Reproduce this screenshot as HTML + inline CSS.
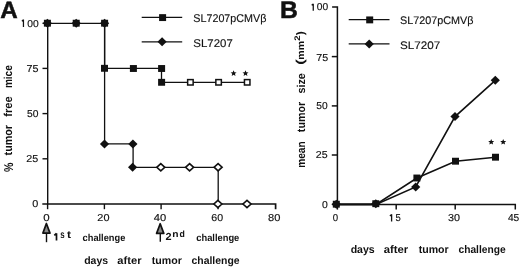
<!DOCTYPE html>
<html><head><meta charset="utf-8">
<style>
html,body{margin:0;padding:0;background:#fff;}
body{width:520px;height:267px;overflow:hidden;}
svg{display:block;will-change:transform;}
text{font-family:"Liberation Sans",sans-serif;fill:#111;text-rendering:geometricPrecision;}
</style></head><body>
<svg width="520" height="267" viewBox="0 0 520 267">
<defs>
  <rect id="fs" x="-3.5" y="-3.45" width="7" height="6.9" fill="#111"/>
  <rect id="os" x="-2.75" y="-2.7" width="5.5" height="5.4" fill="#fff" stroke="#111" stroke-width="1.5"/>
  <path id="fd" d="M0,-4.5 L4.6,0 L0,4.5 L-4.6,0 Z" fill="#111"/>
  <path id="od" d="M0,-3.6 L4.0,0 L0,3.6 L-4.0,0 Z" fill="#fff" stroke="#111" stroke-width="1.6" stroke-linejoin="miter"/>
  <path id="st" d="M0,-3.1 L0.85,-1.05 L3.0,-0.95 L1.35,0.45 L1.9,2.6 L0,1.4 L-1.9,2.6 L-1.35,0.45 L-3.0,-0.95 L-0.85,-1.05 Z" fill="#111"/>
</defs>
<!-- ===== Panel A geometry ===== -->
<g stroke="#111" stroke-width="1.4" fill="none">
  <line x1="47.7" y1="23" x2="47.7" y2="204"/>
  <polyline points="42.3,204 275.6,204 275.6,209.2" stroke-width="1.7"/>
  <line x1="42.5" y1="23.3" x2="47.6" y2="23.3"/>
  <line x1="42.5" y1="68.4" x2="47.6" y2="68.4"/>
  <line x1="42.5" y1="113.6" x2="47.6" y2="113.6"/>
  <line x1="42.5" y1="158.8" x2="47.6" y2="158.8"/>
  <line x1="47.6" y1="204" x2="47.6" y2="209.2"/>
  <line x1="104.4" y1="204" x2="104.4" y2="209.2"/>
  <line x1="161.1" y1="204" x2="161.1" y2="209.2"/>
  <line x1="218.1" y1="204" x2="218.1" y2="209.2"/>
</g>
<g stroke="#111" stroke-width="1.3" fill="none">
  <polyline points="47.6,23.3 104.6,23.3 104.6,68.4 161.5,68.4 161.5,82.3 247,82.3"/>
  <polyline points="104.6,23.3 104.6,143.9 133.1,143.9 133.1,167.3 218.2,167.3 218.2,204"/>
  <line x1="141.7" y1="17.3" x2="182.2" y2="17.3"/>
  <line x1="141.7" y1="41.8" x2="182.2" y2="41.8"/>
</g>
<use href="#fd" x="47.4" y="23.2"/><use href="#fs" x="47.4" y="23.2"/>
<use href="#fd" x="76.2" y="23.2"/><use href="#fs" x="76.2" y="23.2"/>
<use href="#fd" x="104.6" y="23.2"/><use href="#fs" x="104.6" y="23.2"/>
<use href="#fs" x="104.5" y="68.3"/>
<use href="#fs" x="133.4" y="68.5"/>
<use href="#fs" x="161.6" y="68.5"/>
<use href="#fs" x="161.6" y="82.3"/>
<use href="#os" x="190.4" y="82.3"/>
<use href="#os" x="218.6" y="82.3"/>
<use href="#os" x="247.2" y="82.3"/>
<use href="#fd" x="104.5" y="143.9"/>
<use href="#fd" x="132.9" y="143.9"/>
<use href="#fd" x="132.6" y="167.2"/>
<use href="#od" x="160.8" y="167.3"/>
<use href="#od" x="189.6" y="167.3"/>
<use href="#od" x="218.1" y="167.2"/>
<use href="#od" x="217.9" y="204"/>
<use href="#od" x="247" y="204"/>
<use href="#st" x="233.6" y="73.4"/>
<use href="#st" x="245.5" y="73.4"/>
<use href="#fs" x="162.6" y="17.6"/>
<use href="#fd" x="162.1" y="41.7"/>
<!-- arrows -->
<g stroke="#111" fill="#8a8a8a" stroke-linejoin="round">
  <path d="M46.4,223.5 L50.0,233.1 L42.9,233.1 Z" stroke-width="1.7"/>
  <line x1="46.5" y1="233" x2="46.5" y2="242.2" stroke-width="1.4"/>
  <path d="M160.2,223.7 L163.8,233.4 L156.6,233.4 Z" stroke-width="1.7"/>
  <line x1="160.3" y1="233.4" x2="160.3" y2="241.8" stroke-width="1.4"/>
</g>
<!-- ===== Panel B geometry ===== -->
<g stroke="#111" stroke-width="1.5" fill="none">
  <polyline points="332.1,7.1 337.4,7.1 337.4,204.4 515.3,204.4 515.3,209.6"/>
  <line x1="331.8" y1="56.6" x2="337.4" y2="56.6"/>
  <line x1="331.8" y1="105.9" x2="337.4" y2="105.9"/>
  <line x1="331.8" y1="155" x2="337.4" y2="155"/>
  <line x1="331.8" y1="204.4" x2="337.4" y2="204.4"/>
  <line x1="337.4" y1="204.4" x2="337.4" y2="209.6"/>
  <line x1="396.2" y1="204.4" x2="396.2" y2="209.6"/>
  <line x1="455.2" y1="204.4" x2="455.2" y2="209.6"/>
</g>
<g stroke="#111" stroke-width="1.6" fill="none">
  <polyline points="336.6,204.4 376,204.4 416.9,178 455.5,161.2 495.5,157.2"/>
  <polyline points="336.6,204.4 376,204.4 415.7,187 455,116.6 495.3,80.3"/>
  <line x1="348.7" y1="19.6" x2="389.5" y2="19.6" stroke-width="1.3"/>
  <line x1="348.7" y1="43.9" x2="389.5" y2="43.9" stroke-width="1.3"/>
</g>
<use href="#fd" x="336.3" y="204.2"/><use href="#fs" x="336.3" y="204.2"/>
<use href="#fd" x="375.8" y="203.7"/><use href="#fs" x="375.8" y="203.7"/>
<use href="#fs" x="416.9" y="178"/>
<use href="#fd" x="415.7" y="187"/>
<use href="#fs" x="455.5" y="161.2"/>
<use href="#fd" x="455" y="116.6"/>
<use href="#fs" x="495.5" y="157.2"/>
<use href="#fd" x="495.3" y="80.3"/>
<use href="#st" x="491.2" y="142"/>
<use href="#st" x="503.2" y="142"/>
<use href="#fs" x="369.7" y="19.9"/>
<use href="#fd" x="369.2" y="43.9"/>
<!-- custom "1" glyphs -->
<g stroke="#111" fill="none" stroke-linecap="butt">
  <path d="M23.45,19.6 L23.45,26.9 M21.9,21.3 L23.45,19.8" stroke-width="1.25"/>
  <path d="M313.25,3.7 L313.25,10.7 M311.7,5.3 L313.25,3.9" stroke-width="1.25"/>
  <path d="M391.6,214.3 L391.6,221.5 M389.9,216.0 L391.6,214.5" stroke-width="1.3"/>
  <path d="M56.5,233.2 L56.5,240.5 M54.3,235.4 L56.5,233.4" stroke-width="1.7"/>
</g>

<g id="texts">
<text id="tA" x="0.292" y="18.000" font-size="23.616" font-weight="bold" textLength="17.484" lengthAdjust="spacingAndGlyphs" stroke="#111" stroke-width="0.5">A</text>
<text id="tB" x="280.063" y="18.000" font-size="24.121" font-weight="bold" textLength="17.884" lengthAdjust="spacingAndGlyphs" stroke="#111" stroke-width="0.5">B</text>
<text id="ya100" x="27.160" y="27.000" font-size="10.026" font-weight="normal" textLength="11.461" lengthAdjust="spacingAndGlyphs" stroke="#111" stroke-width="0.15">00</text>
<text id="ya75" x="26.559" y="72.000" font-size="10.026" font-weight="normal" textLength="11.968" lengthAdjust="spacingAndGlyphs" stroke="#111" stroke-width="0.15">75</text>
<text id="ya50" x="26.959" y="117.000" font-size="10.026" font-weight="normal" textLength="11.457" lengthAdjust="spacingAndGlyphs" stroke="#111" stroke-width="0.15">50</text>
<text id="ya25" x="26.293" y="162.000" font-size="10.026" font-weight="normal" textLength="11.962" lengthAdjust="spacingAndGlyphs" stroke="#111" stroke-width="0.15">25</text>
<text id="ya0" x="32.379" y="207.000" font-size="10.026" font-weight="normal" textLength="6.048" lengthAdjust="spacingAndGlyphs" stroke="#111" stroke-width="0.15">0</text>
<text id="xa0" x="43.351" y="221.000" font-size="10.026" font-weight="normal" textLength="6.414" lengthAdjust="spacingAndGlyphs" stroke="#111" stroke-width="0.15">0</text>
<text id="xa20" x="97.381" y="221.000" font-size="10.026" font-weight="normal" textLength="12.119" lengthAdjust="spacingAndGlyphs" stroke="#111" stroke-width="0.15">20</text>
<text id="xa40" x="153.711" y="221.000" font-size="10.026" font-weight="normal" textLength="12.442" lengthAdjust="spacingAndGlyphs" stroke="#111" stroke-width="0.15">40</text>
<text id="xa60" x="211.350" y="221.000" font-size="10.026" font-weight="normal" textLength="11.825" lengthAdjust="spacingAndGlyphs" stroke="#111" stroke-width="0.15">60</text>
<text id="xa80" x="268.101" y="221.000" font-size="10.026" font-weight="normal" textLength="12.358" lengthAdjust="spacingAndGlyphs" stroke="#111" stroke-width="0.15">80</text>
<text id="la1" x="193.301" y="22.000" font-size="11.227" font-weight="normal" textLength="73.107" lengthAdjust="spacingAndGlyphs" stroke="#111" stroke-width="0.15">SL7207pCMVβ</text>
<text id="la2" x="193.372" y="47.000" font-size="11.227" font-weight="normal" textLength="39.432" lengthAdjust="spacingAndGlyphs" stroke="#111" stroke-width="0.15">SL7207</text>
<text id="lb1" x="399.987" y="24.000" font-size="10.982" font-weight="normal" textLength="73.468" lengthAdjust="spacingAndGlyphs" stroke="#111" stroke-width="0.15">SL7207pCMVβ</text>
<text id="lb2" x="399.960" y="49.000" font-size="10.982" font-weight="normal" textLength="40.211" lengthAdjust="spacingAndGlyphs" stroke="#111" stroke-width="0.15">SL7207</text>
<text id="yta1" transform="translate(13.000,172.027) rotate(-90)" font-size="12.754" font-weight="bold" textLength="9.419" lengthAdjust="spacingAndGlyphs">%</text>
<text id="yta2" transform="translate(12.000,155.408) rotate(-90)" font-size="11.510" font-weight="bold" textLength="30.421" lengthAdjust="spacingAndGlyphs">tumor</text>
<text id="yta3" transform="translate(12.000,116.668) rotate(-90)" font-size="11.510" font-weight="bold" textLength="20.376" lengthAdjust="spacingAndGlyphs">free</text>
<text id="yta4" transform="translate(12.000,88.105) rotate(-90)" font-size="11.510" font-weight="bold" textLength="22.908" lengthAdjust="spacingAndGlyphs">mice</text>
<text id="c1b" x="60.148" y="238.000" font-size="10.489" font-weight="bold" textLength="4.373" lengthAdjust="spacingAndGlyphs">s</text>
<text id="c1d" x="67.053" y="238.000" font-size="10.564" font-weight="bold" textLength="3.972" lengthAdjust="spacingAndGlyphs">t</text>
<text id="c1c" x="82.579" y="241.000" font-size="9.985" font-weight="bold" textLength="42.750" lengthAdjust="spacingAndGlyphs">challenge</text>
<text id="c2a" x="165.634" y="240.000" font-size="10.238" font-weight="bold" textLength="6.055" lengthAdjust="spacingAndGlyphs">2</text>
<text id="c2b" x="172.168" y="237.000" font-size="9.197" font-weight="bold" textLength="6.284" lengthAdjust="spacingAndGlyphs">n</text>
<text id="c2d" x="179.506" y="237.000" font-size="9.111" font-weight="bold" textLength="5.367" lengthAdjust="spacingAndGlyphs">d</text>
<text id="c2c" x="196.258" y="241.000" font-size="9.985" font-weight="bold" textLength="43.059" lengthAdjust="spacingAndGlyphs">challenge</text>
<text id="xta1" x="84.151" y="264.000" font-size="10.677" font-weight="bold" textLength="23.925" lengthAdjust="spacingAndGlyphs">days</text>
<text id="xta2" x="117.372" y="264.000" font-size="10.677" font-weight="bold" textLength="24.167" lengthAdjust="spacingAndGlyphs">after</text>
<text id="xta3" x="151.856" y="264.000" font-size="10.677" font-weight="bold" textLength="30.054" lengthAdjust="spacingAndGlyphs">tumor</text>
<text id="xta4" x="191.518" y="264.000" font-size="10.677" font-weight="bold" textLength="48.041" lengthAdjust="spacingAndGlyphs">challenge</text>
<text id="yb100" x="316.783" y="10.000" font-size="10.026" font-weight="normal" textLength="11.407" lengthAdjust="spacingAndGlyphs" stroke="#111" stroke-width="0.15">00</text>
<text id="yb75" x="316.362" y="61.000" font-size="10.026" font-weight="normal" textLength="11.922" lengthAdjust="spacingAndGlyphs" stroke="#111" stroke-width="0.15">75</text>
<text id="yb50" x="316.374" y="109.000" font-size="10.026" font-weight="normal" textLength="11.379" lengthAdjust="spacingAndGlyphs" stroke="#111" stroke-width="0.15">50</text>
<text id="yb25" x="315.797" y="158.000" font-size="10.026" font-weight="normal" textLength="11.790" lengthAdjust="spacingAndGlyphs" stroke="#111" stroke-width="0.15">25</text>
<text id="yb0" x="321.891" y="208.000" font-size="10.026" font-weight="normal" textLength="5.806" lengthAdjust="spacingAndGlyphs" stroke="#111" stroke-width="0.15">0</text>
<text id="xb0" x="332.864" y="221.000" font-size="10.026" font-weight="normal" textLength="5.373" lengthAdjust="spacingAndGlyphs" stroke="#111" stroke-width="0.15">0</text>
<text id="xb15" x="395.536" y="221.000" font-size="10.026" font-weight="normal" textLength="5.282" lengthAdjust="spacingAndGlyphs" stroke="#111" stroke-width="0.15">5</text>
<text id="xb30" x="448.103" y="221.000" font-size="10.026" font-weight="normal" textLength="12.024" lengthAdjust="spacingAndGlyphs" stroke="#111" stroke-width="0.15">30</text>
<text id="xb45" x="507.905" y="221.000" font-size="10.026" font-weight="normal" textLength="11.350" lengthAdjust="spacingAndGlyphs" stroke="#111" stroke-width="0.15">45</text>
<text id="ytb1" transform="translate(305.000,167.872) rotate(-90)" font-size="11.386" font-weight="bold" textLength="26.557" lengthAdjust="spacingAndGlyphs">mean</text>
<text id="ytb2" transform="translate(305.000,132.148) rotate(-90)" font-size="11.386" font-weight="bold" textLength="30.258" lengthAdjust="spacingAndGlyphs">tumor</text>
<text id="ytb3" transform="translate(305.000,93.607) rotate(-90)" font-size="11.386" font-weight="bold" textLength="20.446" lengthAdjust="spacingAndGlyphs">size</text>
<text id="ytb4" transform="translate(304.000,64.732) rotate(-90)" font-size="11.586" font-weight="bold" textLength="5.409" lengthAdjust="spacingAndGlyphs">(</text>
<text id="ytb5" transform="translate(304.000,59.745) rotate(-90)" font-size="9.629" font-weight="bold" textLength="18.773" lengthAdjust="spacingAndGlyphs">mm</text>
<text id="ytb6" transform="translate(300.000,40.702) rotate(-90)" font-size="8.091" font-weight="bold" textLength="5.316" lengthAdjust="spacingAndGlyphs">2</text>
<text id="ytb7" transform="translate(304.000,35.319) rotate(-90)" font-size="10.933" font-weight="bold" textLength="4.072" lengthAdjust="spacingAndGlyphs">)</text>
<text id="xtb1" x="350.651" y="253.000" font-size="10.921" font-weight="bold" textLength="24.094" lengthAdjust="spacingAndGlyphs">days</text>
<text id="xtb2" x="383.669" y="253.000" font-size="10.921" font-weight="bold" textLength="24.585" lengthAdjust="spacingAndGlyphs">after</text>
<text id="xtb3" x="418.687" y="253.000" font-size="10.921" font-weight="bold" textLength="29.974" lengthAdjust="spacingAndGlyphs">tumor</text>
<text id="xtb4" x="458.498" y="253.000" font-size="10.921" font-weight="bold" textLength="47.099" lengthAdjust="spacingAndGlyphs">challenge</text>
</g>
</svg>
</body></html>
